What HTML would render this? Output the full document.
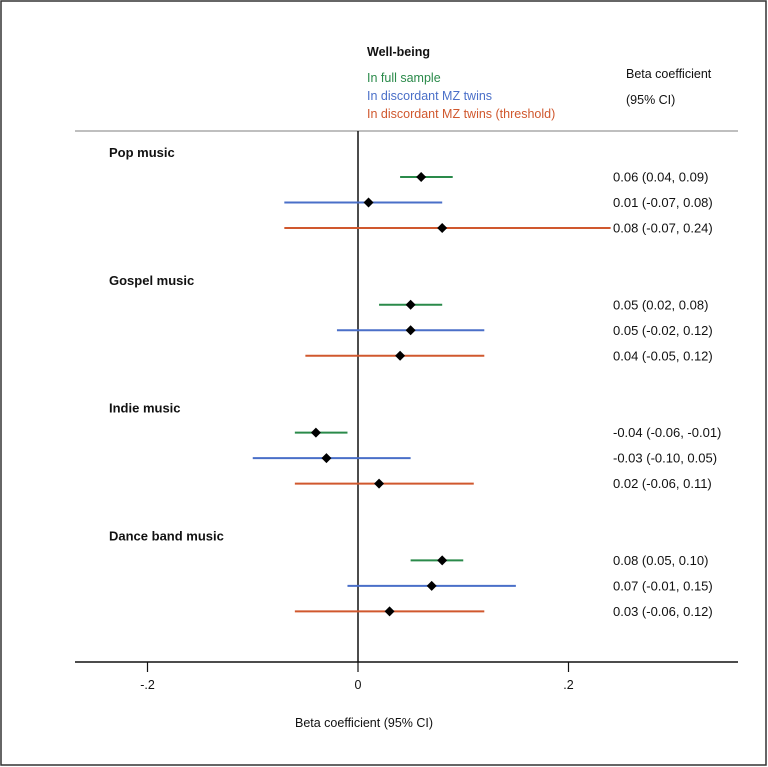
<!DOCTYPE html>
<html><head><meta charset="utf-8"><style>
html,body{margin:0;padding:0;background:#fff}
svg{display:block;font-family:"Liberation Sans",Arial,sans-serif}
</style></head><body>
<svg id="chart" width="768" height="767" viewBox="0 0 768 767">
<rect x="1" y="1" width="765" height="764" fill="#fff" stroke="#333" stroke-width="1.5"/>
<text x="367" y="56" font-size="12.5" font-weight="bold" fill="#111">Well-being</text>
<text x="367" y="82" font-size="12.5" fill="#2a8a4a">In full sample</text>
<text x="367" y="100" font-size="12.5" fill="#4a6fc8">In discordant MZ twins</text>
<text x="367" y="118" font-size="12.5" fill="#d0582e">In discordant MZ twins (threshold)</text>
<text x="626" y="78" font-size="12.5" fill="#111">Beta coefficient</text>
<text x="626" y="104" font-size="12.5" fill="#111">(95% CI)</text>
<line x1="75" y1="131" x2="738" y2="131" stroke="#999" stroke-width="1.2"/>
<line x1="75" y1="662" x2="738" y2="662" stroke="#111" stroke-width="1.5"/>
<text x="364" y="727" font-size="12.5" fill="#111" text-anchor="middle">Beta coefficient (95% CI)</text>
<g id="marks"></g>
</svg>
<script>
const groups = ["Pop music","Gospel music","Indie music","Dance band music"];
const series = ["full-sample","discordant-twins","discordant-threshold"];
const colors = ["#2a8a4a","#4a6fc8","#d0582e"];
const est = [[0.06,0.01,0.08],[0.05,0.05,0.04],[-0.04,-0.03,0.02],[0.08,0.07,0.03]];
const lo = [[0.04,-0.07,-0.07],[0.02,-0.02,-0.05],[-0.06,-0.10,-0.06],[0.05,-0.01,-0.06]];
const hi = [[0.09,0.08,0.24],[0.08,0.12,0.12],[-0.01,0.05,0.11],[0.10,0.15,0.12]];
const labels = [["0.06 (0.04, 0.09)","0.01 (-0.07, 0.08)","0.08 (-0.07, 0.24)"],["0.05 (0.02, 0.08)","0.05 (-0.02, 0.12)","0.04 (-0.05, 0.12)"],["-0.04 (-0.06, -0.01)","-0.03 (-0.10, 0.05)","0.02 (-0.06, 0.11)"],["0.08 (0.05, 0.10)","0.07 (-0.01, 0.15)","0.03 (-0.06, 0.12)"]];
const ticks = [-0.2,0,0.2];
const tickLabels = ["-.2","0",".2"];
const ns="http://www.w3.org/2000/svg";
const g=document.getElementById('marks');
const x=v=>358+v*1052.5;
const gy=i=>152+i*127.8;
const ry=(i,j)=>gy(i)+25+j*25.5;
function mk(t,a){const e=document.createElementNS(ns,t);for(const k in a)e.setAttribute(k,a[k]);g.appendChild(e);return e;}
let z=mk('line',{x1:x(0),y1:131,x2:x(0),y2:662,stroke:'#111','stroke-width':1.5});


ticks.forEach((t,k)=>{
 let l=mk('line',{x1:x(t),y1:662,x2:x(t),y2:672,stroke:'#111','stroke-width':1.2});
 
 
 let tx=mk('text',{x:x(t),y:689,'font-size':12.5,'text-anchor':'middle',fill:'#111'});
 tx.textContent=tickLabels[k];
 
 
});
groups.forEach((name,i)=>{
 let h=mk('text',{x:109,y:gy(i)+5,'font-size':13,'font-weight':'bold',fill:'#111'});
 h.textContent=name;
 
 
 series.forEach((s,j)=>{
  const y=ry(i,j);
  let ci=mk('line',{x1:x(lo[i][j]),y1:y,x2:x(hi[i][j]),y2:y,stroke:colors[j],'stroke-width':2});
  
  
  const cx=x(est[i][j]);
  let d=mk('polygon',{points:`${cx},${y-5} ${cx+5},${y} ${cx},${y+5} ${cx-5},${y}`,fill:'#000'});
  
  
  let v=mk('text',{x:613,y:y+4.5,'font-size':13,fill:'#111'});
  v.textContent=labels[i][j];
  
  
 });
});
</script>
</body></html>
